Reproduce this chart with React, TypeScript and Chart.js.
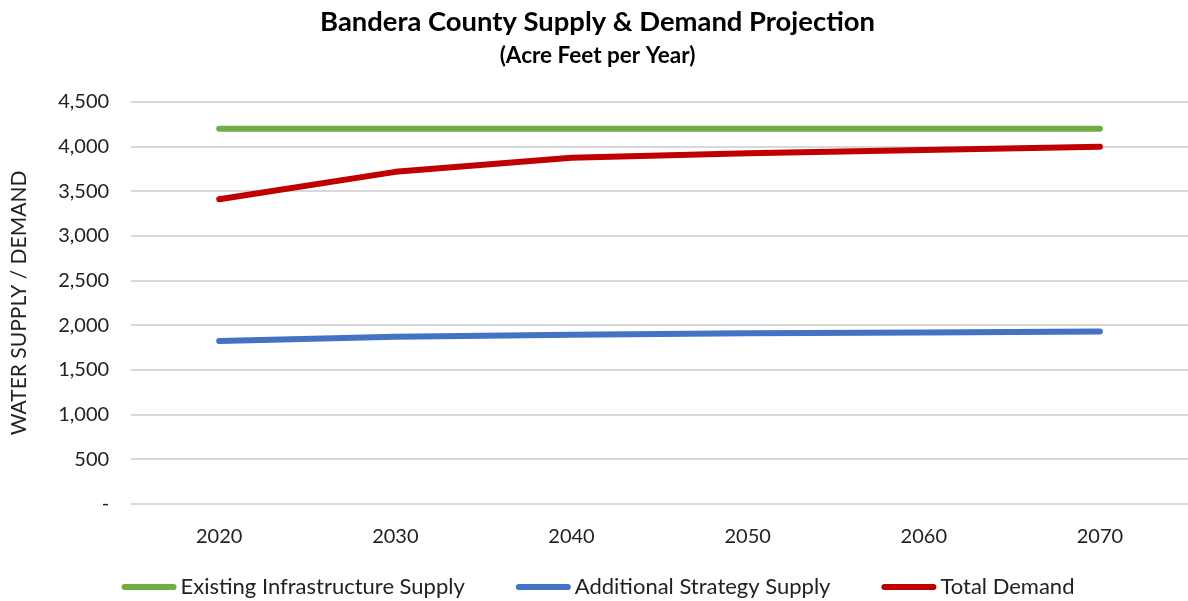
import React, { useEffect, useRef } from "react";
import { Chart, registerables } from "chart.js";

Chart.register(...registerables);

const years = ["2020", "2030", "2040", "2050", "2060", "2070"];
const existingSupply = [4200, 4200, 4200, 4200, 4200, 4200];
const strategySupply = [1825, 1873, 1895, 1910, 1920, 1930];
const totalDemand = [3411, 3717, 3875, 3925, 3962, 3997];
const yTicks = [0, 500, 1000, 1500, 2000, 2500, 3000, 3500, 4000, 4500];

const FONT = "Lato, 'Open Sans', sans-serif";

const bottomLegend = {
  id: "bottomLegend",
  afterDraw(chart: any) {
    const ctx = chart.ctx as CanvasRenderingContext2D;
    const items = chart.data.datasets.map((d: any) => ({ text: d.label, color: d.borderColor }));
    const boxW = 55;
    const gapBoxText = 4;
    const gapItems = 51;
    ctx.save();
    ctx.font = `22px ${FONT}`;
    const widths = items.map((it: any) => boxW + gapBoxText + ctx.measureText(it.text).width);
    const total = widths.reduce((a: number, b: number) => a + b, 0) + gapItems * (items.length - 1);
    let x = (chart.width - total) / 2 + 4;
    const y = 587;
    items.forEach((it: any, i: number) => {
      ctx.strokeStyle = it.color;
      ctx.lineWidth = 6;
      ctx.lineCap = "round";
      ctx.beginPath();
      ctx.moveTo(x + 3, y);
      ctx.lineTo(x + boxW - 3, y);
      ctx.stroke();
      ctx.fillStyle = "#222";
      ctx.textBaseline = "middle";
      ctx.textAlign = "left";
      ctx.fillText(it.text, x + boxW + gapBoxText, y);
      x += widths[i] + gapItems;
    });
    ctx.restore();
  },
};

export default function App() {
  const ref = useRef<HTMLCanvasElement | null>(null);
  useEffect(() => {
    if (!ref.current) return;
    const mk = (label: string, data: number[], color: string) => ({
      label,
      data,
      borderColor: color,
      backgroundColor: color,
      borderWidth: 6,
      borderCapStyle: "round" as const,
      borderJoinStyle: "round" as const,
      pointRadius: 0,
      tension: 0,
    });
    const chart = new Chart(ref.current, {
      type: "line",
      data: {
        labels: years,
        datasets: [
          mk("Existing Infrastructure Supply", existingSupply, "#70ad47"),
          mk("Additional Strategy Supply", strategySupply, "#4472c4"),
          mk("Total Demand", totalDemand, "#c00000"),
        ],
      },
      plugins: [bottomLegend],
      options: {
        animation: false,
        responsive: true,
        maintainAspectRatio: false,
        layout: { padding: { left: 7, right: 0, top: 6, bottom: 39 } },
        plugins: {
          title: {
            display: true,
            text: "Bandera County Supply & Demand Projection",
            color: "#000",
            font: { family: FONT, size: 27.4, weight: "bold" },
            padding: { top: 0, bottom: 2 },
          },
          subtitle: {
            display: true,
            text: "(Acre Feet per Year)",
            color: "#000",
            font: { family: FONT, size: 22.5, weight: "bold" },
            padding: { top: 1, bottom: 33 },
          },
          legend: { display: false },
          tooltip: { enabled: false },
        },
        scales: {
          x: {
            offset: true,
            grid: { display: false },
            border: { display: false },
            ticks: {
              color: "#222",
              font: { family: FONT, size: 20 },
              padding: 13,
            },
          },
          y: {
            min: 0,
            max: 4500,
            afterBuildTicks: (axis: any) => {
              axis.ticks = yTicks.map((v) => ({ value: v }));
            },
            grid: { color: "#d9d9d9", lineWidth: 2, drawTicks: false },
            border: { display: false },
            ticks: {
              color: "#222",
              font: { family: FONT, size: 20 },
              padding: 22,
              callback: (v: any) => (Number(v) === 0 ? "-" : Number(v).toLocaleString("en-US")),
            },
            title: {
              display: true,
              text: "WATER SUPPLY / DEMAND",
              color: "#222",
              font: { family: FONT, size: 21 },
              padding: { top: 0, bottom: 4 },
            },
          },
        },
      },
    });
    return () => chart.destroy();
  }, []);
  return (
    <div style={{ position: "fixed", left: 0, top: 0, width: 1188, height: 601, background: "#fff" }}>
      <canvas ref={ref} />
    </div>
  );
}
